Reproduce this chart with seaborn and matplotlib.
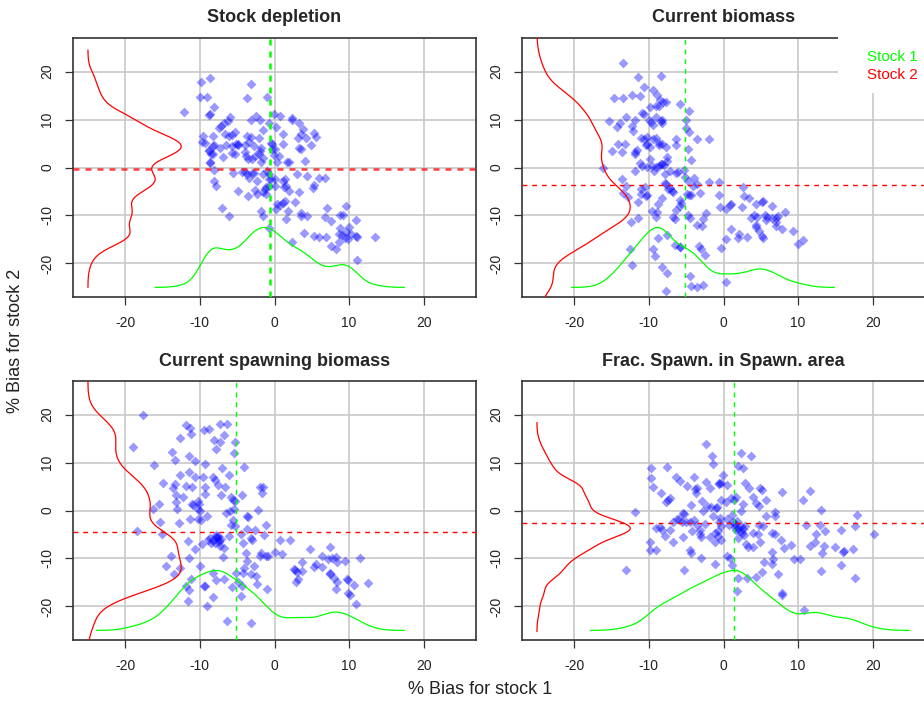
import numpy as np
import matplotlib
matplotlib.use("Agg")
import matplotlib.pyplot as plt
from matplotlib.patches import Rectangle
import seaborn as sns

# --- DATA ---
titles = ["Stock depletion", "Current biomass",
          "Current spawning biomass", "Frac. Spawn. in Spawn. area"]

depl_x = [-9.9, -8.7, -3.1, -10.0, -9.1, -3.7, -1.0, -12.1, -8.1, -8.8,
          -8.6, -5.9, -2.5, -3.1, -2.0, -0.1, 0.7, 0.2, 2.4, 2.4,
          3.3, 3.8, -7.2, -7.5, -6.6, -6.1, -5.7, -5.3, -6.8, -6.2,
          -9.6, -9.7, -9.3, -8.3, -8.3, -8.8, -8.1, -7.3, -6.5, -5.7,
          -5.1, -4.9, -4.9, -3.9, -3.7, -3.1, -3.4, -2.7, -2.1, -1.6,
          -0.7, 1.1, 1.1, 3.1, 3.6, 3.3, 3.6, 4.2, 5.3, 5.5,
          4.9, 4.1, -8.8, -8.5, -8.2, -6.9, -5.7, -5.3, -4.0, -3.8,
          -3.6, -3.0, -2.6, -2.1, -1.8, -2.0, -1.8, -1.5, -0.5, -0.3,
          -0.4, 0.0, -0.1, 0.6, 0.3, 1.7, 2.0, -8.7, -8.6, -8.1,
          -5.6, -4.3, -4.0, -3.7, -3.0, -2.8, -3.4, -2.4, -1.6, -1.0,
          -0.8, -0.7, -0.5, 0.0, 0.0, -0.7, -1.2, -1.3, -1.5, -1.2,
          -2.3, -2.6, -3.5, -4.9, -8.1, -7.9, -7.0, -6.1, -1.8, -1.5,
          -0.7, 0.4, 1.1, 1.4, 1.8, 1.6, 0.8, 0.2, 1.1, 1.4,
          1.6, 1.3, 1.9, 3.0, 4.4, 5.3, 5.2, 5.9, 6.7, 3.3,
          2.7, 3.5, 3.6, 4.4, 3.9, 2.4, 5.3, 6.0, 6.9, 7.0,
          6.7, 7.6, 8.8, 9.2, 9.6, 10.9, 10.0, 8.8, 8.6, 9.1,
          9.5, 9.9, 8.6, 7.6, 8.2, 10.9, 11.1, 13.5, 11.1, 9.6, 10.3]
depl_y = [17.9, 18.7, 17.5, 14.7, 14.7, 14.4, 14.7, 11.6, 12.7, 10.9,
          11.1, 10.6, 10.8, 9.9, 9.8, 11.1, 10.8, 8.5, 10.3, 9.9,
          9.2, 8.1, 8.6, 8.2, 6.9, 6.6, 6.7, 7.5, 9.2, 9.7,
          6.6, 5.3, 5.1, 6.6, 4.5, 3.6, 4.7, 4.1, 4.7, 4.5,
          5.0, 5.0, 4.7, 4.7, 6.5, 6.4, 5.3, 4.5, 6.2, 7.9,
          9.3, 7.0, 5.0, 6.1, 7.0, 4.0, 3.9, 6.1, 7.2, 6.4,
          4.7, 1.4, 3.4, 2.9, 2.9, 2.1, 3.1, 2.9, 3.3, 2.4,
          1.7, 1.8, 2.3, 2.9, 4.1, 3.4, 1.2, 1.9, 5.1, 4.8,
          3.8, 3.9, 2.6, 2.4, 1.2, 1.2, 1.2, 1.0, 1.2, -0.5,
          -1.2, -0.9, -1.0, -1.4, -1.2, -1.2, -2.1, -2.9, -1.3, -0.8,
          -1.4, -2.3, -2.5, -2.5, -3.8, -3.8, -4.0, -4.5, -5.1, -5.5,
          -5.5, -4.7, -6.0, -4.9, -2.8, -3.8, -8.5, -10.2, -9.1, -10.1,
          -12.7, -7.6, -7.3, -7.0, -9.0, -10.8, -7.9, -8.7, -2.9, -2.5,
          -3.8, -4.1, -4.8, -1.4, -1.8, -3.6, -4.3, -2.2, -2.2, -5.1,
          -7.1, -9.5, -10.1, -10.1, -13.7, -15.6, -14.2, -14.5, -14.5, -8.4,
          -10.4, -11.2, -9.9, -9.9, -8.1, -10.9, -12.5, -12.7, -13.8, -14.0,
          -14.7, -14.9, -15.6, -16.3, -17.0, -14.2, -14.4, -14.4, -19.2, -13.4, -13.9]

bio_x = [-13.4, -11.4, -8.4, -10.6, -9.4, -8.9, -14.7, -13.5, -12.2, -11.2,
         -8.5, -8.1, -7.7, -8.7, -9.8, -9.0, -5.8, -4.6, -13.1, -15.3,
         -14.3, -13.9, -12.2, -12.1, -11.8, -10.9, -10.7, -10.0, -9.7, -9.4,
         -9.0, -8.4, -8.2, -8.3, -14.1, -13.2, -14.9, -13.6, -11.8, -11.6,
         -11.8, -11.1, -10.6, -10.2, -10.3, -10.4, -9.8, -9.4, -9.1, -8.7,
         -8.6, -8.3, -7.7, -6.3, -6.4, -5.0, -5.0, -4.6, -3.5, -2.0,
         -4.7, -4.4, -16.1, -11.8, -11.2, -10.9, -10.3, -9.9, -9.6, -9.0,
         -8.6, -8.4, -8.2, -8.0, -7.6, -7.6, -9.3, -7.8, -7.2, -6.4,
         -6.1, -5.3, -5.2, -4.7, -4.0, -3.6, -2.0, -0.6, -13.6, -13.0,
         -13.4, -12.8, -11.0, -11.0, -10.5, -10.4, -11.4, -10.3, -9.6, -8.8,
         -9.0, -8.3, -7.9, -7.7, -7.4, -7.2, -6.9, -6.7, -5.8, -5.7,
         -5.8, -6.3, -6.8, -6.5, -4.9, -4.6, -4.4, -4.1, -3.2, -4.7,
         -4.5, -3.5, -2.9, -2.7, -2.4, -0.6, -0.5, 0.4, 0.9, 1.0,
         2.6, 2.8, 3.4, 2.5, 4.4, 5.1, 5.3, 6.5, 8.3, 3.7,
         4.1, 4.5, 5.6, 5.7, 5.8, 6.5, 7.0, 7.3, 7.1, 7.1,
         7.8, 9.3, 4.3, 4.4, 4.7, 5.2, 5.3, 2.1, 2.0, 3.1,
         1.0, 0.4, -0.3, 10.0, 10.6, -12.4, -11.5, -8.9, -8.8, -7.6,
         -6.5, -5.8, -12.5, -12.2, -9.5, -9.2, -8.2, -7.6, -5.8, -4.5,
         -4.3, -3.5, -2.7, 0.4, -7.7, -3.3, -3.0, -2.5]
bio_y = [21.8, 18.9, 19.1, 16.8, 16.1, 15.1, 14.4, 14.4, 15.1, 15.0,
         14.0, 13.7, 13.7, 12.9, 12.6, 12.8, 13.2, 11.8, 10.6, 9.7,
         8.5, 9.2, 8.6, 7.6, 9.9, 11.4, 11.2, 9.9, 9.5, 8.8,
         10.6, 9.7, 10.0, 9.2, 5.0, 4.9, 3.4, 3.2, 3.3, 3.7,
         2.8, 6.1, 6.0, 6.4, 4.9, 4.6, 4.3, 5.9, 6.2, 5.2,
         4.7, 4.8, 4.3, 5.9, 4.6, 9.9, 8.3, 7.3, 5.9, 5.9,
         3.9, 1.6, -0.1, -0.8, 0.9, 0.4, 0.2, 1.8, 0.4, 0.2,
         0.4, 0.8, 0.8, 0.5, 2.1, 1.4, -0.7, -1.4, -0.8, -1.2,
         -1.0, -0.5, -1.9, -2.8, -2.2, -3.4, -3.1, -3.0, -2.3, -3.8,
         -5.4, -6.2, -4.5, -5.5, -4.1, -6.0, -7.1, -5.7, -9.0, -7.7,
         -10.4, -6.4, -3.2, -3.4, -4.4, -4.2, -5.0, -5.2, -6.7, -7.5,
         -8.1, -8.8, -10.3, -10.8, -5.6, -5.8, -5.7, -3.8, -5.3, -10.0,
         -10.5, -11.9, -12.3, -10.8, -9.4, -5.8, -8.2, -8.6, -7.9, -7.6,
         -4.1, -6.0, -6.4, -8.3, -7.7, -7.2, -6.9, -8.1, -9.2, -10.6,
         -10.0, -10.3, -10.0, -11.0, -10.3, -10.6, -10.6, -10.1, -11.3, -12.2,
         -12.9, -13.2, -11.9, -12.4, -13.3, -14.3, -14.8, -13.8, -14.6, -14.4,
         -12.8, -14.9, -16.8, -15.9, -15.1, -11.4, -10.6, -9.2, -14.6, -14.1,
         -16.1, -16.5, -17.0, -20.3, -17.0, -18.4, -20.8, -22.0, -16.6, -22.6,
         -24.8, -25.0, -24.4, -23.9, -25.7, -16.3, -16.9, -18.3]

ssb_x = [-17.6, -19.0, -16.1, -15.0, -15.5, -16.3, -15.4, -15.1, -18.4, -14.6,
         -13.9, -13.5, -12.7, -13.7, -13.3, -13.6, -13.3, -13.2, -13.2, -13.1,
         -12.8, -12.6, -12.7, -11.9, -11.3, -11.2, -11.4, -11.4, -11.8, -11.1,
         -12.2, -11.0, -10.9, -11.3, -10.7, -10.6, -10.3, -10.1, -10.2, -10.0,
         -10.3, -9.8, -9.5, -8.8, -9.3, -9.6, -9.3, -9.3, -9.0, -9.7,
         -10.7, -11.5, -11.6, -11.2, -11.8, -11.4, -11.6, -10.0, -9.4, -9.3,
         -9.0, -8.3, -8.6, -8.2, -7.8, -7.4, -7.6, -8.0, -8.9, -8.5,
         -7.3, -6.9, -6.7, -8.3, -7.8, -6.7, -8.1, -7.3, -6.8, -7.3,
         -6.3, -7.8, -8.3, -8.0, -7.6, -7.0, -7.2, -6.6, -6.1, -5.8,
         -5.6, -6.5, -6.0, -5.4, -5.5, -6.1, -5.8, -5.3, -5.3, -5.4,
         -4.1, -4.4, -5.3, -3.7, -3.5, -3.7, -4.5, -4.2, -3.8, -3.7,
         -4.2, -5.2, -4.9, -4.3, -4.5, -6.4, -3.1, -3.2, -3.0, -2.6,
         -2.2, -2.0, -1.5, -1.7, -1.4, -1.8, -1.1, -1.9, -1.2, -0.9,
         -2.8, -3.1, -2.5, -2.4, -1.0, 0.0, 0.7, 1.0, 2.1, 3.1,
         2.6, 2.8, 3.0, 2.9, 3.7, 3.7, 4.7, 5.3, 5.6, 6.4,
         6.3, 7.2, 7.4, 7.7, 8.2, 8.4, 7.4, 7.5, 8.0, 8.4,
         8.3, 9.4, 9.7, 9.8, 9.9, 10.1, 10.7, 10.9, 11.4, 12.5,
         -5.7, -4.1, -7.7, -7.5, -7.9, -7.2]
ssb_y = [20.0, 13.2, 9.4, 5.7, 1.4, 0.3, -2.4, -5.0, -4.3, -11.6,
         -9.4, -13.2, -11.9, 12.1, 10.6, 4.6, 5.5, 3.2, 1.7, 0.4,
         -2.7, 15.1, 7.4, 17.9, 17.2, 15.9, 11.4, 8.1, 5.2, 4.8,
         2.9, 1.3, 1.1, -1.7, 7.0, 10.3, 2.0, 1.4, 0.3, 0.0,
         -1.7, -1.9, 16.7, 17.0, 9.7, 7.0, 5.0, 3.5, -1.2, -6.9,
         -8.1, -10.0, -6.3, -14.3, -15.7, -16.6, -18.8, -11.6, -15.7, -15.7,
         -19.9, -18.0, -5.7, -6.1, -5.5, -6.1, -5.4, -6.8, -6.1, -6.8,
         -7.4, -9.7, -7.8, -13.0, -14.5, -14.3, 14.6, 14.2, 15.7, 18.1,
         18.1, 12.8, 6.9, 6.3, 5.4, 8.8, 3.3, 5.0, 7.4, 2.8,
         2.1, -0.5, -0.1, 0.4, -1.9, -5.4, -3.0, -3.3, 14.3, 11.9,
         9.0, 3.2, 1.9, -1.2, -1.4, -3.9, -4.8, -6.8, -8.8, -10.6,
         -13.0, -13.0, -15.0, -15.7, -17.8, -23.0, -23.5, -5.7, -6.2, -4.0,
         0.1, 4.8, 5.0, 3.6, -5.2, -8.8, -3.1, -9.5, -9.4, -9.5,
         -11.6, -13.2, -13.7, -15.4, -16.3, -8.6, -6.2, -9.1, -6.2, -14.3,
         -12.1, -12.4, -12.8, -15.0, -12.6, -10.8, -8.1, -11.8, -11.2, -9.5,
         -11.8, -10.2, -7.7, -9.9, -9.7, -10.8, -13.0, -13.3, -14.0, -15.0,
         -16.4, -10.6, -14.2, -14.5, -17.2, -17.6, -15.5, -19.4, -9.9, -15.2,
         -15.9, -11.9, -5.8, -6.5, -5.2, -5.9]

frac_x = [-2.3, 2.3, 3.7, -1.5, -1.4, -9.7, -7.6, 2.0, 2.6, -9.7,
          -6.4, -5.8, -4.9, -3.9, -3.6, -2.3, -1.8, -0.6, -0.4, -0.1,
          0.5, -9.4, -8.4, -7.2, -7.4, -7.7, -5.4, -5.3, -4.3, -3.7,
          -3.8, -2.9, -2.7, -2.2, -1.7, -1.4, -0.9, -0.4, 0.3, 1.0,
          1.4, 1.7, 2.3, 2.6, 2.9, 3.4, 3.9, 4.3, 4.7, 4.9,
          5.1, 5.7, 6.9, 6.9, 7.8, 10.6, 11.6, 13.0, 17.9, 20.1,
          -11.8, -13.0, -9.8, -9.8, -9.1, -9.0, -8.2, -7.8, -7.2, -6.7,
          -5.9, -5.4, -5.0, -4.5, -4.2, -4.5, -4.3, -3.2, -3.2, -3.0,
          -1.8, -1.2, -0.8, -0.7, -0.3, -0.6, -0.4, -1.1, 0.5, 1.1,
          1.3, 1.5, 1.7, 2.0, 2.0, 2.4, 2.5, 2.9, 2.8, 3.0,
          3.3, 3.9, 4.0, 4.6, 4.8, 4.9, 5.3, 5.7, 6.5, 6.9,
          7.7, 8.1, 9.1, 9.5, 10.3, 11.0, 11.6, 12.2, 12.4, 12.9,
          13.2, 13.5, 13.6, 14.9, 15.8, 16.0, 16.2, 17.3, 17.6, 15.7,
          17.6, 13.0, -5.3, -3.0, -1.2, 0.5, 0.9, 1.2, 2.0, 1.8,
          3.1, 4.4, 5.1, 5.4, 6.5, 6.6, 6.5, 7.3, 7.8, 7.9,
          10.8, 1.5, 2.2, 2.6, 1.8, 0.8, -0.5, -2.5, -3.5, -4.0,
          -5.5, -6.2, -8.5, -6.8, -1.0, -0.6]
frac_y = [13.9, 11.9, 11.3, 11.4, 9.7, 8.8, 9.0, 9.2, 8.8, 6.8,
          7.0, 6.2, 5.2, 6.9, 4.6, 5.9, 4.6, 5.7, 5.7, 7.5,
          5.4, 5.0, 3.7, 2.6, 2.2, 1.7, -0.6, -0.7, 1.2, 3.7,
          4.4, 1.9, -0.1, 1.0, 0.8, -1.2, 0.8, 2.2, 1.7, 2.6,
          2.2, 2.9, 0.0, 1.3, 5.7, 4.6, 2.9, 1.5, 1.0, 4.6,
          4.3, 2.1, -0.3, -1.2, 3.9, 2.1, 4.1, 0.1, -1.0, -4.8,
          -0.3, -12.4, -6.6, -8.3, -8.3, -3.7, -4.0, -5.4, -4.0, -6.6,
          -1.7, -5.5, -2.5, -2.3, -4.3, -8.3, -8.8, -4.0, -5.0, -5.5,
          -5.5, -4.7, -5.4, -4.3, -3.3, -2.5, -6.1, -6.6, -1.8, -1.0,
          -2.3, -2.8, -4.0, -5.7, -3.7, -3.2, -4.7, -3.3, -5.2, -6.9,
          -7.6, -7.6, -4.7, -5.0, -3.0, -6.6, -3.3, -1.2, -4.7, -5.0,
          -6.1, -7.9, -7.2, -10.2, -10.1, -3.0, -7.3, -6.6, -5.0, -3.1,
          -8.8, -7.4, -4.2, -7.6, -4.1, -8.7, -8.5, -8.0, -3.2, -11.4,
          -14.1, -12.7, -12.4, -10.0, -11.2, -9.5, -9.9, -11.3, -14.1, -16.8,
          -14.0, -13.8, -12.8, -10.8, -8.6, -10.2, -11.2, -13.2, -17.2, -17.7,
          -20.8, -3.5, -4.2, -3.8, -2.2, -3.0, -1.5, -2.8, -3.0, -2.0,
          -2.5, -1.8, -3.5, -2.3, 0.5, 5.5]

# mean bias lines (dashed) per panel
mean_stock1 = [-0.6, -5.2, -5.1, 1.45]
mean_stock2 = [-0.3, -3.7, -4.4, -2.7]

panels = [(depl_x, depl_y), (bio_x, bio_y), (ssb_x, ssb_y), (frac_x, frac_y)]

# --- STYLE ---
sns.set_style("white")
plt.rcParams['font.family'] = ['Liberation Sans', 'DejaVu Sans']

GREEN = "#00FF00"
RED = "#FF0000"
BLUE = (0.0, 0.0, 1.0)


def kde_curve(v, scale=0.23, n=512):
    # gaussian kernel density, rescaled so its peak is 12.5 units tall
    v = np.asarray(v, dtype=float)
    bw = scale * v.std(ddof=1)
    grid = np.linspace(v.min() - 3 * bw, v.max() + 3 * bw, n)
    dens = np.exp(-0.5 * ((grid[:, None] - v[None, :]) / bw) ** 2).sum(axis=1)
    return grid, dens / dens.max() * 12.5


W, H = 924, 705
fig = plt.figure(figsize=(W / 100, H / 100), dpi=100)
boxes = [(73, 38), (522, 38), (73, 381), (522, 381)]
bw_px, bh_px = 403, 259

for i, ((xs, ys), (left, top)) in enumerate(zip(panels, boxes)):
    ax = fig.add_axes([left / W, 1 - (top + bh_px) / H, bw_px / W, bh_px / H])
    ax.set_xlim(-27, 27)
    ax.set_ylim(-27, 27)
    ticks = [-20, -10, 0, 10, 20]
    ax.set_xticks(ticks)
    ax.set_yticks(ticks)
    ax.set_xticklabels([str(t) for t in ticks])
    ax.set_yticklabels([str(t) for t in ticks], rotation=90, va="center")
    ax.grid(True, color="#C8C8C8", lw=1.2)
    ax.set_axisbelow(True)
    ax.tick_params(direction="out", length=5.5, width=0.9, color="#333333",
                   labelsize=10, pad=8, labelcolor="#222222",
                   bottom=True, left=True)
    for sp in ax.spines.values():
        sp.set_color("#333333")
        sp.set_linewidth(1.2)

    sns.scatterplot(x=xs, y=ys, ax=ax, marker="D", s=25, color=BLUE,
                    alpha=0.4, linewidth=0, zorder=3)

    gx, gd = kde_curve(xs)
    ax.plot(gx, -25 + gd, color=GREEN, lw=0.9, zorder=4)
    ry, rd = kde_curve(ys)
    ax.plot(-25 + rd, ry, color=RED, lw=0.9, zorder=4)

    if i == 0:
        lw, dash = 1.8, (2.4, 2.4)
    else:
        lw, dash = 1.0, (3.5, 3.5)
    ax.axvline(mean_stock1[i], color=GREEN, lw=lw, ls=(0, dash), zorder=5)
    ax.axhline(mean_stock2[i], color=RED, lw=lw, ls=(0, dash), zorder=5,
               alpha=0.75 if i == 0 else 1.0)

    ax.text(0.5, 1 + 20 / bh_px, titles[i], transform=ax.transAxes,
            ha="center", va="center", fontsize=13, fontweight="bold")

    if i == 1:
        ax.add_patch(Rectangle((15.3, 15.5), 13, 12.5, facecolor="white",
                               edgecolor="none", clip_on=False, zorder=6))
        ax.text(19.2, 23.0, "Stock 1", color=GREEN, fontsize=11,
                ha="left", va="center", zorder=7)
        ax.text(19.2, 19.3, "Stock 2", color=RED, fontsize=11,
                ha="left", va="center", zorder=7)

fig.text(480 / W, 1 - 690 / H, "% Bias for stock 1", ha="center",
         va="center", fontsize=13, color="#222222")
fig.text(16 / W, 1 - 341 / H, "% Bias for stock 2", ha="center",
         va="center", rotation=90, fontsize=13, color="#222222")

fig.savefig("out.png", dpi=100)
